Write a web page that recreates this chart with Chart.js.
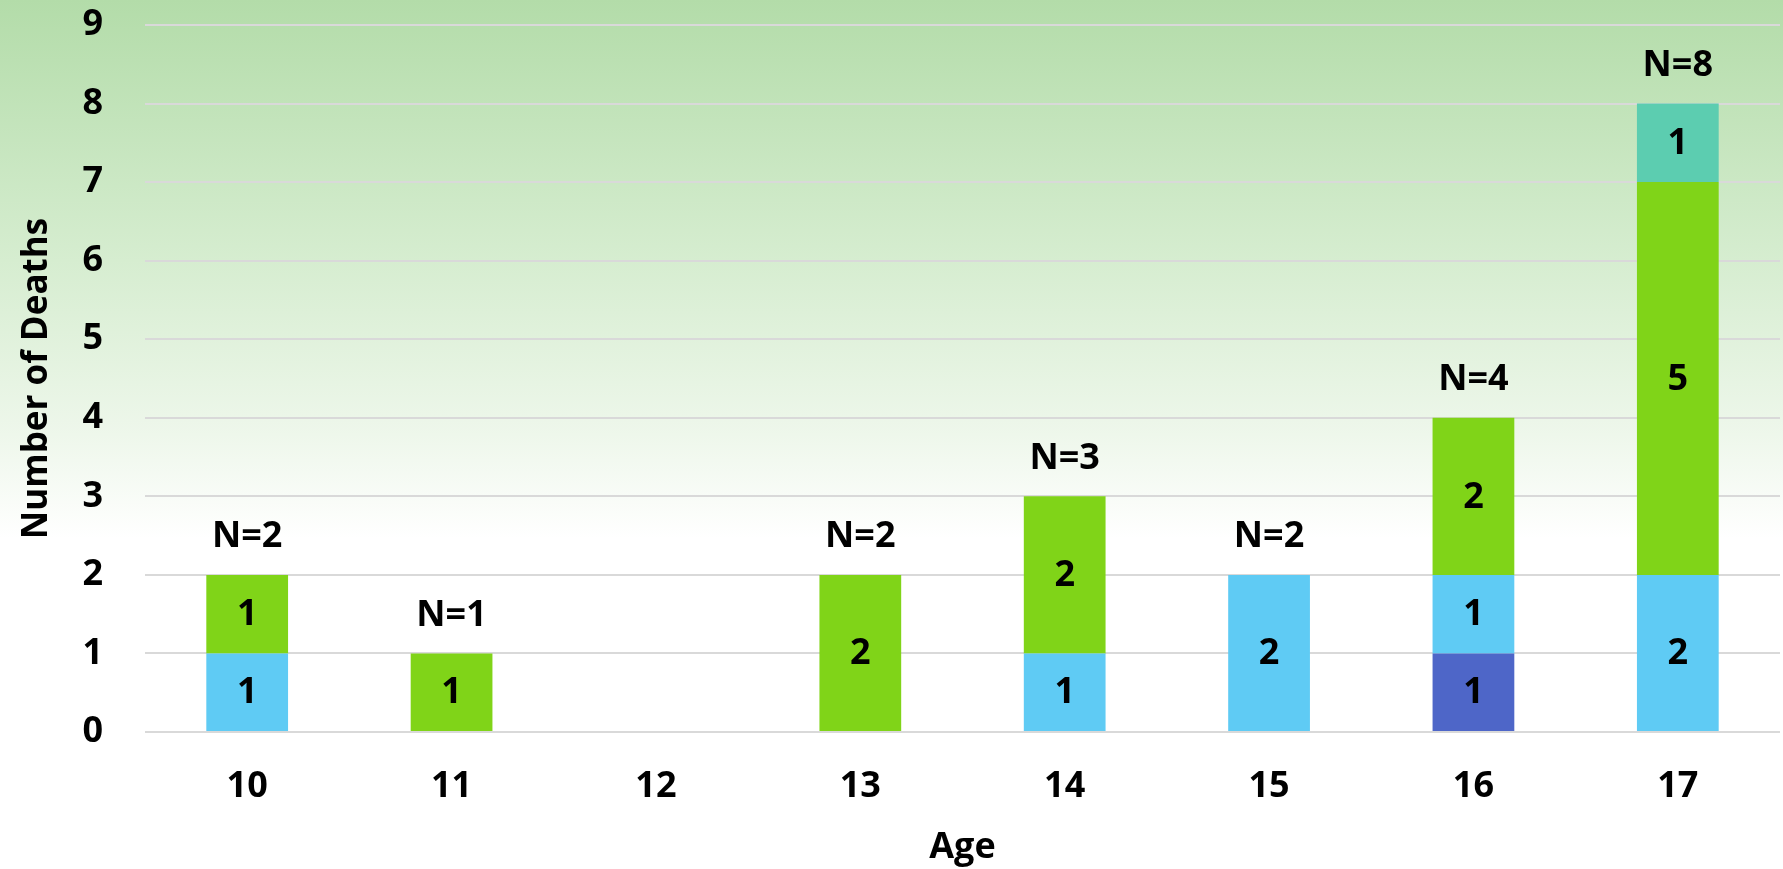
<!DOCTYPE html>
<html>
<head>
<meta charset="utf-8">
<script src="https://cdn.jsdelivr.net/npm/chart.js@4.4.1/dist/chart.umd.min.js"></script>
<style>
html,body{margin:0;padding:0;background:#fff;}
#wrap{width:1783px;height:869px;position:relative;}
</style>
</head>
<body>
<div id="wrap"><canvas id="c" width="1783" height="869"></canvas></div>
<script>
const ages = ['10','11','12','13','14','15','16','17'];
const darkBlue  = [0,0,0,0,0,0,1,0];
const lightBlue = [1,0,0,0,1,2,1,2];
const green     = [1,1,0,2,2,0,2,5];
const teal      = [0,0,0,0,0,0,0,1];
const yTicks = [0,1,2,3,4,5,6,7,8,9];

const FONT = '"Open Sans", "DejaVu Sans", sans-serif';

const bgPlugin = {
  id:'bg',
  beforeDraw(chart){
    const ctx = chart.ctx;
    const g = ctx.createLinearGradient(0,0,0,chart.height);
    g.addColorStop(0,'#b3dca9');
    g.addColorStop(0.3,'#d6edd0');
    g.addColorStop(0.5,'#eef7eb');
    g.addColorStop(0.62,'#ffffff');
    g.addColorStop(1,'#ffffff');
    ctx.save();
    ctx.fillStyle = g;
    ctx.fillRect(0,0,chart.width,chart.height);
    ctx.restore();
  }
};

const labelPlugin = {
  id:'labels',
  afterDatasetsDraw(chart){
    const ctx = chart.ctx;
    ctx.save();
    ctx.fillStyle = '#000';
    ctx.font = 'bold 36px ' + FONT;
    ctx.textAlign = 'center';
    ctx.textBaseline = 'middle';
    chart.data.datasets.forEach((ds,i)=>{
      const meta = chart.getDatasetMeta(i);
      meta.data.forEach((el,j)=>{
        const v = ds.data[j];
        if(!v) return;
        const y = (el.y + el.base)/2;
        ctx.fillText(String(v), el.x, y+1);
      });
    });
    const ys = chart.scales.y;
    const last = chart.getDatasetMeta(0).data;
    ages.forEach((a,j)=>{
      const tot = darkBlue[j]+lightBlue[j]+green[j]+teal[j];
      if(!tot) return;
      ctx.fillText('N='+tot, last[j].x, ys.getPixelForValue(tot)-38);
    });
    ctx.restore();
  }
};

new Chart(document.getElementById('c'), {
  type:'bar',
  data:{
    labels: ages,
    datasets:[
      {label:'A', data:darkBlue,  backgroundColor:'#4e66c8'},
      {label:'B', data:lightBlue, backgroundColor:'#5fcbf4'},
      {label:'C', data:green,     backgroundColor:'#80d418'},
      {label:'D', data:teal,      backgroundColor:'#5ccdb0'}
    ]
  },
  options:{
    responsive:false,
    animation:false,
    layout:{padding:{top:0,right:3,left:0,bottom:0}},
    plugins:{legend:{display:false},tooltip:{enabled:false}},
    datasets:{bar:{categoryPercentage:1.0,barPercentage:0.4,borderWidth:0}},
    scales:{
      x:{
        stacked:true,
        grid:{display:false,drawTicks:false},
        border:{display:false},
        ticks:{color:'#000',font:{family:FONT,size:36,weight:'bold'},padding:33},
        title:{display:true,text:'Age',color:'#000',font:{family:FONT,size:36,weight:'bold'},padding:{top:18,bottom:0}},
        afterFit(s){ s.height = 137; }
      },
      y:{
        stacked:true,
        min:0,max:9,
        afterBuildTicks(s){ s.ticks = yTicks.map(v=>({value:v})); },
        grid:{color:'#d9d9d9',lineWidth:2,drawTicks:false},
        border:{display:false},
        ticks:{color:'#000',font:{family:FONT,size:36,weight:'bold'},padding:42},
        title:{display:true,text:'Number of Deaths',color:'#000',font:{family:FONT,size:35,weight:'bold'},padding:{top:16,bottom:0}},
        afterFit(s){ s.width = 145; s.paddingTop = 25; s.paddingBottom = 0; }
      }
    }
  },
  plugins:[bgPlugin,labelPlugin]
});
</script>
</body>
</html>
